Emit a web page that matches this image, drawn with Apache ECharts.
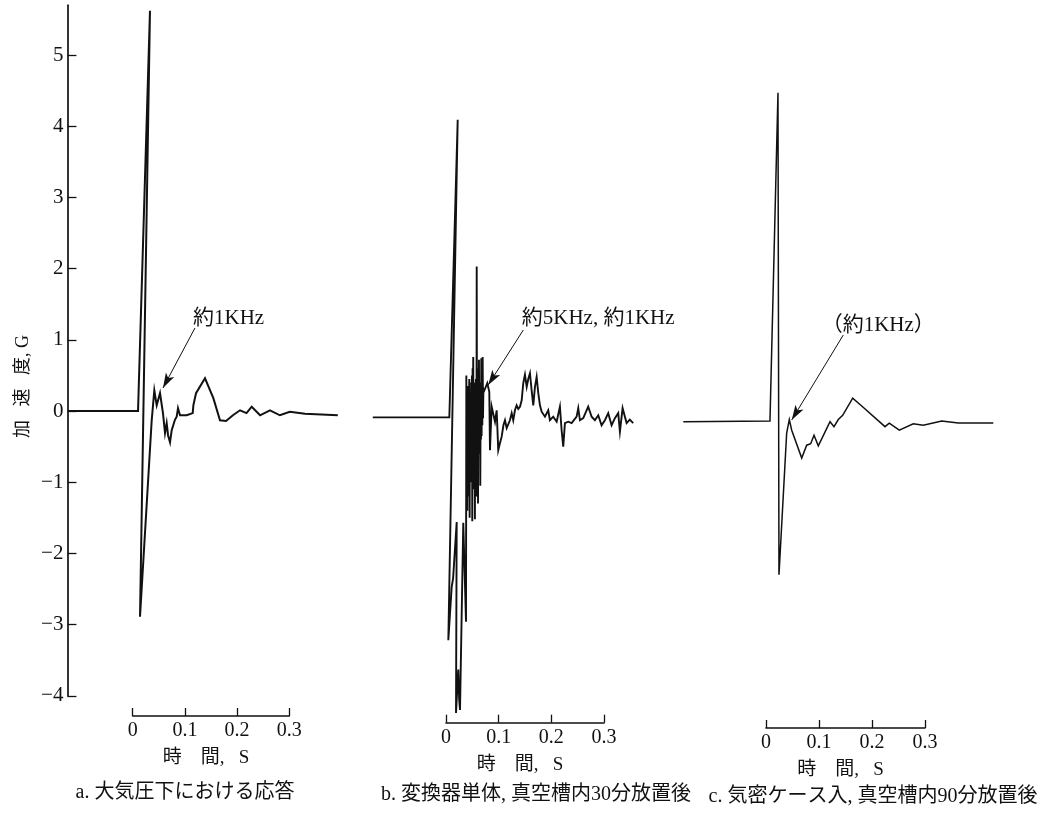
<!DOCTYPE html>
<html><head><meta charset="utf-8">
<script src="https://cdn.jsdelivr.net/npm/echarts@6/dist/echarts.min.js"></script>
<style>html,body{margin:0;padding:0;background:#fff}#c{width:1050px;height:823px}</style>
</head><body><div id="c"></div>
<script>
// ---------- data ----------
const yTicks = [-4, -3, -2, -1, 0, 1, 2, 3, 4, 5];
const xTicks = [0, 0.1, 0.2, 0.3];
const yName = '加\u2002 速\u2002 度, G';
const xName = '時\u3000間, \u2002S';
const captions = ['a. 大気圧下における応答', 'b. 変換器単体, 真空槽内30分放置後', 'c. 気密ケース入, 真空槽内90分放置後'];
const notes = ['約1KHz', '約5KHz, 約1KHz', '（約1KHz）'];

// panel a : time (s), acceleration (G)
const tA = [-0.124, 0.0102, 0.0331, 0.0140, 0.0364, 0.0414, 0.0460, 0.0523, 0.0580, 0.0619, 0.0651, 0.0677, 0.0715, 0.0747, 0.0811, 0.0843, 0.0868, 0.0906, 0.1034, 0.1150, 0.1162, 0.1213, 0.1385, 0.1545, 0.1672, 0.1788, 0.1920, 0.2056, 0.2180, 0.2280, 0.2440, 0.2630, 0.2820, 0.3010, 0.3300, 0.3930];
const gA = [0, 0, 5.62, -2.89, -0.13, 0.29, 0.08, 0.25, -0.03, -0.31, -0.17, -0.34, -0.44, -0.27, -0.12, -0.08, 0.04, -0.06, -0.06, -0.03, 0.08, 0.25, 0.46, 0.18, -0.13, -0.14, -0.06, 0.01, -0.03, 0.06, -0.06, 0.01, -0.06, -0.01, -0.04, -0.06];

// panel b
const tB = [-0.139, 0.0063, 0.0222, 0.0044, 0.0108, 0.0135, 0.0203, 0.0190, 0.0234, 0.0250, 0.0266, 0.0328, 0.0380,
  0.0386, 0.0392, 0.0399, 0.0405, 0.0411, 0.0418, 0.0424, 0.0430, 0.0436, 0.0442, 0.0449, 0.0455, 0.0461, 0.0467, 0.0474, 0.0480, 0.0486, 0.0492, 0.0499, 0.0505, 0.0511, 0.0517, 0.0524, 0.0530, 0.0536, 0.0542, 0.0549, 0.0555, 0.0561, 0.0567, 0.0574, 0.0580, 0.0583, 0.0589, 0.0595, 0.0601, 0.0608, 0.0614, 0.0620, 0.0626, 0.0633, 0.0639, 0.0645, 0.0651, 0.0658, 0.0664, 0.0670, 0.0676, 0.0683, 0.0690, 0.0696, 0.0703, 0.0710, 0.0718,
  0.0784, 0.0822, 0.0835, 0.0867, 0.0900, 0.0930, 0.0962, 0.0992, 0.1025, 0.1057, 0.1090, 0.1120, 0.1152, 0.1214, 0.1247, 0.1277, 0.1309, 0.1341, 0.1372, 0.1404, 0.1437, 0.1467, 0.1499, 0.1532, 0.1562, 0.1594, 0.1626, 0.1657, 0.1689, 0.1721, 0.1752, 0.1784, 0.1816, 0.1879, 0.1941, 0.1973, 0.2036, 0.2101, 0.2163, 0.2195, 0.2226, 0.2258, 0.2321, 0.2385, 0.2480, 0.2511, 0.2543, 0.2606, 0.2700, 0.2765, 0.2827, 0.2891, 0.2954, 0.3017, 0.3080, 0.3144, 0.3207, 0.3270, 0.3302, 0.3353, 0.3429, 0.3490, 0.3554];
const gB = [-0.09, -0.09, 4.09, -3.22, -2.47, -2.35, -1.56, -4.24, -3.63, -4.05, -4.20, -1.57, -2.96,
  0.50, -1.10, 0.20, -1.40, 0.35, -0.70, 0.30, -1.20, 0.10, 0.45, -1.50, 0.25, -0.60, 0.20, -1.00, 0.40, -0.40, 0.50, -1.55, 0.60, -0.20, 0.76, -0.90, 0.40, -1.10, 0.15, -1.52, 0.30, -0.50, 0.45, -1.20, 0.20, 2.03, -0.80, 0.50, -0.30, -1.30, 0.60, -0.50, 0.72, -0.60, 0.10, 0.40, -1.05, 0.30, -0.40, 0.74, -0.35, 0.55, -0.20, 0.76, -0.10, 0.30, 0.27,
  0.39, 0.27, -0.55, 0.06, -0.05, -0.15, 0.01, -0.55, -0.45, -0.36, -0.20, -0.13, -0.24, -0.13, -0.03, -0.13, 0.01, 0.08, 0.03, 0.06, 0.15, 0.39, 0.51, 0.34, 0.45, 0.53, 0.29, 0.08, 0.34, 0.48, 0.25, 0.08, -0.01, -0.08, 0.01, -0.13, -0.08, -0.15, 0.06, -0.27, -0.50, -0.17, -0.15, -0.17, -0.08, 0.04, -0.13, -0.10, 0.06, -0.08, -0.13, -0.06, -0.20, -0.13, -0.03, -0.20, -0.10, -0.03, -0.29, 0.04, -0.17, -0.12, -0.17];

// panel c
const tC = [-0.156, 0.0075, 0.0226, 0.0245, 0.0390, 0.0440, 0.0485, 0.0674, 0.0768, 0.0843, 0.0906, 0.0987, 0.1208, 0.1283, 0.1364, 0.1447, 0.1636, 0.1806, 0.2245, 0.2326, 0.2515, 0.2779, 0.2968, 0.3315, 0.3628, 0.4289];
const gC = [-0.15, -0.14, 4.47, -2.30, -0.31, -0.12, -0.27, -0.66, -0.48, -0.46, -0.34, -0.49, -0.15, -0.22, -0.12, -0.06, 0.18, 0.07, -0.22, -0.17, -0.27, -0.18, -0.20, -0.14, -0.17, -0.17];

// annotation arrows (data coords: start, tip) and note anchors
const arrows = [
  [[0.1193, 1.166], [0.0580, 0.323]],
  [[0.1468, 1.138], [0.0801, 0.365]],
  [[0.1458, 1.067], [0.0485, -0.126]]
];
const noteAt = [[0.1155, 1.306], [0.1439, 1.306], [0.1050, 1.208]];

// ---------- layout (pixels) ----------
const Y = { zeroY: 411, ppg: 71.2, min: -4, max: 5.7 };
const P = [
  { x0: 132.7, pps: 522,   tMin: -0.125, tMax: 0.40, barY: 716,   cap: [185, 793], w: 2.0 },
  { x0: 446,   pps: 526.7, tMin: -0.145, tMax: 0.37, barY: 722.7, cap: [536, 795], w: 1.9 },
  { x0: 766,   pps: 530,   tMin: -0.16,  tMax: 0.44, barY: 728,   cap: [873, 797], w: 1.5 }
];
const FONT = "'Liberation Serif','Noto Sans CJK JP',serif";
const INK = '#111';

const zip = (a, b) => a.map((v, i) => [v, b[i]]);
const traces = [zip(tA, gA), zip(tB, gB), zip(tC, gC)];

const gTop = Y.zeroY - Y.max * Y.ppg;
const gH = (Y.max - Y.min) * Y.ppg;

const grid = [], xAxis = [], yAxis = [], series = [], graphic = [];
P.forEach(p => grid.push({ left: p.x0 + p.tMin * p.pps, top: gTop, width: (p.tMax - p.tMin) * p.pps, height: gH }));
P.forEach(p => grid.push({ left: p.x0, top: p.barY - 1, width: 0.3 * p.pps, height: 1 }));
P.forEach((p, i) => xAxis.push({ gridIndex: i, type: 'value', min: p.tMin, max: p.tMax, show: false }));
P.forEach((p, i) => {
  xAxis.push({
    gridIndex: 3 + i, type: 'value', min: 0, max: 0.3, interval: 0.1, position: 'bottom',
    axisLine: { show: true, onZero: false, lineStyle: { color: INK, width: 1.6 } },
    axisTick: { show: true, inside: true, length: 8, lineStyle: { color: INK, width: 1.3 }, customValues: xTicks },
    axisLabel: { show: true, margin: 5, color: INK, fontSize: 20, fontFamily: FONT, customValues: xTicks,
      formatter: v => (v === 0 ? '0' : v.toFixed(1)) },
    splitLine: { show: false },
    name: xName, nameLocation: 'middle', nameGap: 33,
    nameTextStyle: { color: INK, fontSize: 19, fontFamily: FONT, padding: [0, 10, 0, 0] }
  });
});
yAxis.push({
  gridIndex: 0, type: 'value', min: Y.min, max: Y.max, position: 'left',
  axisLine: { show: true, onZero: false, lineStyle: { color: INK, width: 1.7 } },
  axisTick: { show: true, inside: true, length: 9, lineStyle: { color: INK, width: 1.3 }, customValues: yTicks },
  axisLabel: { show: true, margin: 4, color: INK, fontSize: 21, fontFamily: FONT, customValues: yTicks,
    formatter: v => (v < 0 ? '\u2212' + (-v) : String(v)) },
  splitLine: { show: false },
  name: yName, nameLocation: 'middle', nameRotate: 90, nameGap: 35,
  nameTextStyle: { color: INK, fontSize: 18, fontFamily: FONT, padding: [0, 72, 0, 0] }
});
for (let i = 1; i < 3; i++) yAxis.push({ gridIndex: i, type: 'value', min: Y.min, max: Y.max, show: false });
for (let i = 0; i < 3; i++) yAxis.push({ gridIndex: 3 + i, type: 'value', min: 0, max: 1, show: false });

traces.forEach((d, i) => {
  series.push({
    type: 'line', xAxisIndex: i, yAxisIndex: i, data: d, symbol: 'none', showSymbol: false,
    clip: false, animation: false, silent: true,
    lineStyle: { color: INK, width: P[i].w, join: 'miter' },
    markLine: {
      silent: true, animation: false, symbol: ['none', 'arrow'], symbolSize: [7, 15],
      lineStyle: { color: INK, width: 1, type: 'solid' }, label: { show: false },
      data: [[{ coord: arrows[i][0] }, { coord: arrows[i][1] }]]
    },
    markPoint: {
      silent: true, animation: false, symbol: 'circle', symbolSize: 0,
      data: [{ coord: noteAt[i], label: { show: true, position: 'right', distance: 0, formatter: notes[i],
        color: INK, fontSize: 21, fontFamily: FONT } }]
    }
  });
});

P.forEach((p, i) => {
  graphic.push({ type: 'text', x: p.cap[0], y: p.cap[1],
    style: { text: captions[i], fill: INK, font: '20px ' + FONT, textAlign: 'center', textVerticalAlign: 'middle' } });
});

const chart = echarts.init(document.getElementById('c'), null, { renderer: 'canvas' });
chart.setOption({ backgroundColor: '#fff', animation: false, grid, xAxis, yAxis, series, graphic });
</script></body></html>
